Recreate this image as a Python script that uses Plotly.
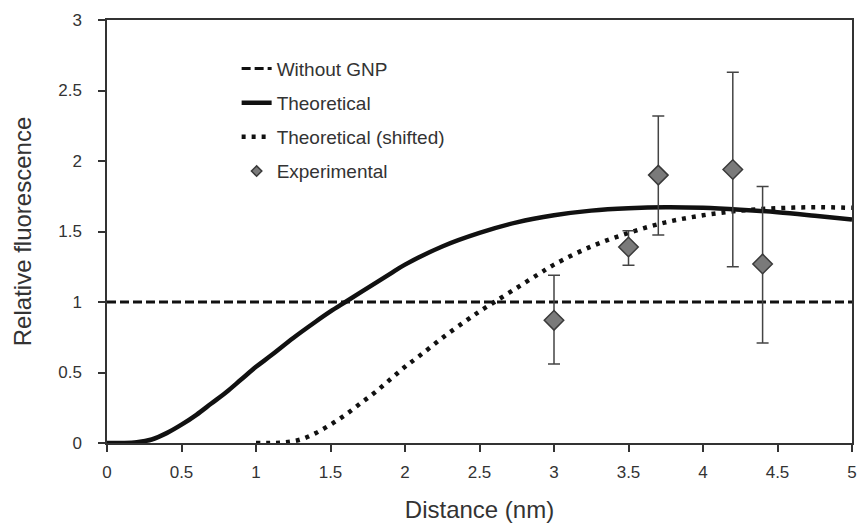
import plotly.graph_objects as go

# ---- data ----
theo_x = [0, 0.1, 0.2, 0.3, 0.4, 0.5, 0.6, 0.7, 0.8, 0.9, 1.0, 1.1, 1.25, 1.4, 1.5,
          1.6, 1.75, 1.9, 2.0, 2.25, 2.5, 2.75, 3.0, 3.25, 3.5, 3.75, 4.0, 4.25, 4.5, 4.75, 5.0]
theo_y = [0, 0.0, 0.005, 0.025, 0.07, 0.13, 0.2, 0.28, 0.36, 0.45, 0.54, 0.62, 0.745, 0.86, 0.933,
          1.0, 1.10, 1.2, 1.265, 1.394, 1.49, 1.565, 1.615, 1.648, 1.665, 1.672, 1.668, 1.655, 1.637, 1.612, 1.585]

shift_x = [1.0, 1.1, 1.2, 1.3, 1.4, 1.5, 1.6, 1.7, 1.8, 1.9, 2.0, 2.1, 2.25, 2.4, 2.5,
           2.6, 2.75, 2.9, 3.0, 3.25, 3.5, 3.75, 4.0, 4.25, 4.5, 4.75, 5.0]
shift_y = [0, 0.0, 0.005, 0.025, 0.07, 0.13, 0.2, 0.28, 0.36, 0.45, 0.54, 0.62, 0.745, 0.86, 0.933,
           1.0, 1.10, 1.2, 1.265, 1.394, 1.49, 1.565, 1.615, 1.648, 1.665, 1.672, 1.668]

nogold_x = [0, 5]
nogold_y = [1, 1]

exp_x = [3.0, 3.5, 3.7, 4.2, 4.4]
exp_y = [0.87, 1.39, 1.90, 1.94, 1.27]
exp_err_plus = [0.32, 0.115, 0.42, 0.69, 0.55]
exp_err_minus = [0.31, 0.13, 0.425, 0.69, 0.56]

x_ticks = [0, 0.5, 1, 1.5, 2, 2.5, 3, 3.5, 4, 4.5, 5]
y_ticks = [0, 0.5, 1, 1.5, 2, 2.5, 3]

FONT = "Liberation Sans, Arial, sans-serif"
TXT = "#333333"
LINE = "#111111"

fig = go.Figure()

fig.add_trace(go.Scatter(x=nogold_x, y=nogold_y, mode="lines", name="Without GNP",
                         legendgroup="a",
                         line=dict(color=LINE, width=3, dash="9px,4px")))
fig.add_trace(go.Scatter(x=theo_x, y=theo_y, mode="lines", name="Theoretical",
                         legendgroup="b", line_shape="spline",
                         line=dict(color=LINE, width=4.5)))
fig.add_trace(go.Scatter(x=shift_x, y=shift_y, mode="lines", name="Theoretical (shifted)",
                         legendgroup="c", line_shape="spline",
                         line=dict(color=LINE, width=4.5, dash="4px,6px")))
fig.add_trace(go.Scatter(x=exp_x, y=exp_y, mode="markers", name="Experimental",
                         showlegend=False,
                         marker=dict(symbol="diamond", size=15, color="#7a7a7a",
                                     line=dict(color="#3a3a3a", width=1.5)),
                         error_y=dict(type="data", symmetric=False,
                                      array=exp_err_plus, arrayminus=exp_err_minus,
                                      color="#444444", thickness=1.5, width=6)))
# legend entry for experimental (small marker, like the reference)
fig.add_trace(go.Scatter(x=[None], y=[None], mode="markers", name="Experimental",
                         legendgroup="d",
                         marker=dict(symbol="diamond", size=8, color="#7a7a7a",
                                     line=dict(color="#3a3a3a", width=1.5))))

axis_common = dict(showline=True, linecolor="#333333", linewidth=1.5, mirror=True,
                   ticks="outside", ticklen=7, tickwidth=1.5, tickcolor="#333333",
                   showgrid=False, zeroline=False,
                   tickfont=dict(family=FONT, size=17, color=TXT))

fig.update_xaxes(range=[0, 5], tickvals=x_ticks, ticktext=[f"{v:g}" for v in x_ticks],
                 title=dict(text="Distance (nm)", font=dict(family=FONT, size=24, color=TXT),
                            standoff=20),
                 ticklabelstandoff=6, **axis_common)
fig.update_yaxes(range=[0, 3], tickvals=y_ticks, ticktext=[f"{v:g}" for v in y_ticks],
                 title=dict(text="Relative fluorescence", font=dict(family=FONT, size=24, color=TXT),
                            standoff=20),
                 ticklabelstandoff=13, **axis_common)

fig.update_layout(
    width=864, height=529,
    margin=dict(l=107, r=7, t=20, b=86),
    paper_bgcolor="white", plot_bgcolor="white",
    font=dict(family=FONT, color=TXT),
    legend=dict(x=0.174, y=0.93, xanchor="left", yanchor="top",
                bgcolor="rgba(0,0,0,0)", borderwidth=0,
                font=dict(family=FONT, size=19, color=TXT),
                traceorder="grouped", tracegroupgap=6.5, itemwidth=30),
)

fig.write_html("out.html")
